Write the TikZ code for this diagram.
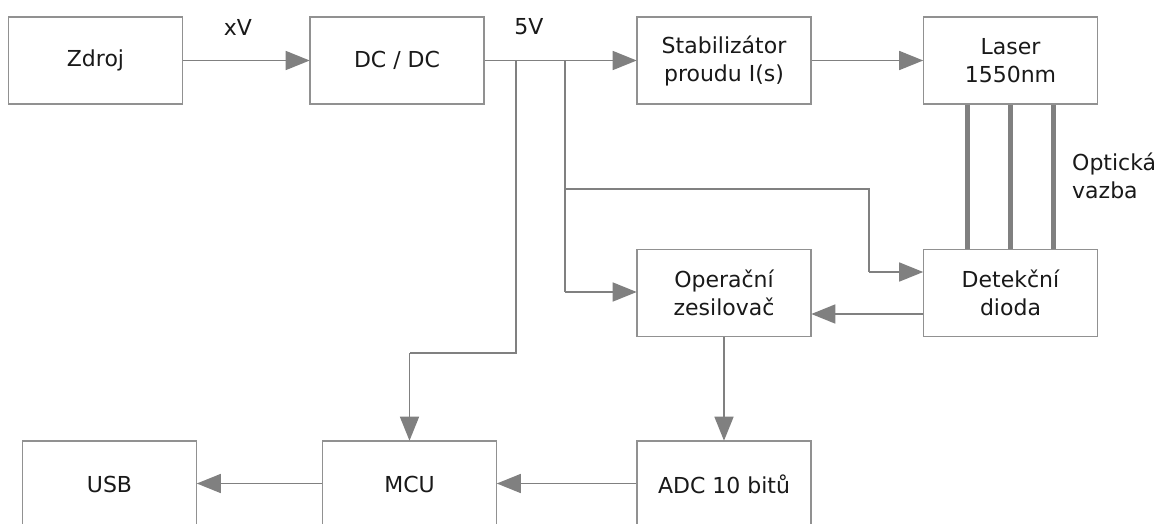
\documentclass[tikz,border=0pt]{standalone}
\usepackage{fontspec}
\setmainfont{DejaVu Sans}
\usetikzlibrary{arrows.meta,calc}
\definecolor{ln}{RGB}{128,128,128}
\definecolor{bx}{RGB}{145,145,145}
\definecolor{tx}{RGB}{25,25,25}
\tikzset{
  blk/.style={draw=bx, line width=1.6pt, minimum width=174pt, minimum height=87pt, inner sep=0pt, align=center, text=tx, font=\fontsize{22}{28}\selectfont},
  con/.style={draw=ln, line width=1.5pt, -{Triangle[length=24pt,width=19pt]}, shorten >=-0.5pt},
  wire/.style={draw=ln, line width=1.5pt},
  opt/.style={draw=ln, line width=5pt},
  lbl/.style={text=tx, font=\fontsize{22}{28}\selectfont, inner sep=0pt}
}
\begin{document}
\begin{tikzpicture}[x=1pt,y=-1pt]
\useasboundingbox (0,0) rectangle (1167,523);
\clip (0,0) rectangle (1167,523);
\fill[white] (0,0) rectangle (1167,523);
% blocks
\node[blk] (zdroj) at (95.5,60.5) {Zdroj};
\node[blk] (dcdc) at (397,60.5) {DC / DC};
\node[blk] (stab) at (724,60.5) {Stabilizátor\\proudu I(s)};
\node[blk] (laser) at (1010.5,60.5) {Laser\\1550nm};
\node[blk] (opamp) at (724,293) {Operační\\zesilovač};
\node[blk] (det) at (1010.5,293) {Detekční\\dioda};
\node[blk] (adc) at (724,484.5) {ADC 10 bitů};
\node[blk] (mcu) at (409.5,484.5) {MCU};
\node[blk] (usb) at (109.5,484.5) {USB};
% labels
\node[lbl] (xv) at (238,27) {xV};
\node[lbl] (fivev) at (529,27) {5V};
\node[lbl, anchor=west, align=left] (optl) at (1072,176) {Optická\\vazba};
% junction coordinates
\coordinate (jA) at (516,60.5);
\coordinate (jB) at (565,60.5);
\coordinate (jC) at (565,189);
\coordinate (jD) at (869,189);
\coordinate (jE) at (869,272);
\coordinate (jF) at (565,292);
\coordinate (jG) at (516,353);
\coordinate (jH) at (409.5,353);
% connectors
\draw[con] (zdroj.east) -- (dcdc.west);
\draw[con] (dcdc.east) -- (stab.west);
\draw[con] (stab.east) -- (laser.west);
\draw[wire] (jA) -- (jG) -- (jH);
\draw[con] (jH) -- (mcu.north);
\draw[wire] (jB) -- (jC) -- (jD) -- (jE);
\draw[con] (jE) -- (jE -| det.west);
\draw[wire] (jC) -- (jF);
\draw[con] (jF) -- (jF -| opamp.west);
\draw[con] ($(det.west)+(0,21)$) -- ($(opamp.east)+(0,21)$);
\draw[con] (opamp.south) -- (adc.north);
\draw[con] ($(adc.west)+(0,-1)$) -- ($(mcu.east)+(0,-1)$);
\draw[con] ($(mcu.west)+(0,-1)$) -- ($(usb.east)+(0,-1)$);
% optical coupling
\draw[opt] (laser.south -| 967,0) -- (det.north -| 967,0);
\draw[opt] (laser.south) -- (det.north);
\draw[opt] (laser.south -| 1053,0) -- (det.north -| 1053,0);
\end{tikzpicture}
\end{document}
